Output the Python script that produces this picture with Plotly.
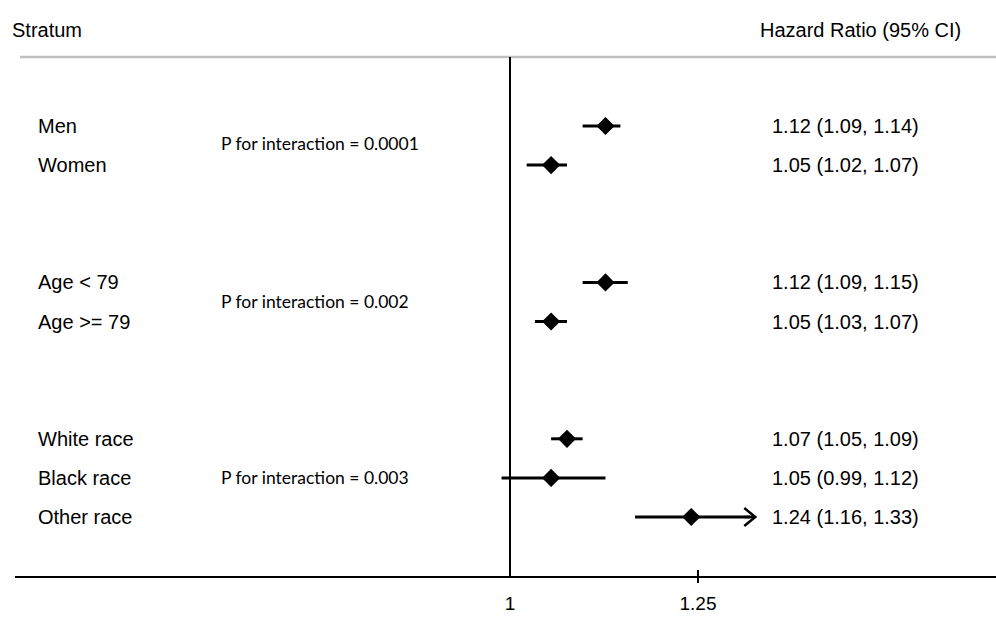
import numpy as np
import plotly.graph_objects as go

# ---- data ----
strata = ["Men", "Women", "Age < 79", "Age >= 79", "White race", "Black race", "Other race"]
rows = [0, 1, 4, 5, 8, 9, 10]
hr = [1.12, 1.05, 1.12, 1.05, 1.07, 1.05, 1.24]
ci_lo = [1.09, 1.02, 1.09, 1.03, 1.05, 0.99, 1.16]
ci_hi = [1.14, 1.07, 1.15, 1.07, 1.09, 1.12, 1.33]
arrow_right = [False, False, False, False, False, False, True]
p_texts = ["P for interaction = 0.0001", "P for interaction = 0.002", "P for interaction = 0.003"]
p_rows = [0.45, 4.5, 9]
tick_vals = [1, 1.25]
tick_text = ["1", "1.25"]

W, H = 996, 619
ML, MB = 15, 43
PW, PH = W - ML, H - MB
px_per_log = 1940.0
x0_px = 510.0
row0_px, row_px = 126.0, 39.1


def xpaper(px):
    return (px - ML) / PW


def ypaper(py):
    return 1 - py / PH


lx = np.log10(hr)
llo = np.log10(ci_lo)
lhi = np.log10(ci_hi)

fig = go.Figure()

# CI lines
for i in range(len(strata)):
    fig.add_trace(go.Scatter(x=[llo[i], lhi[i]], y=[rows[i], rows[i]], mode="lines",
                             line=dict(color="black", width=3), hoverinfo="skip", showlegend=False))

# point estimates
fig.add_trace(go.Scatter(x=lx, y=rows, mode="markers",
                         marker=dict(symbol="diamond", size=14, color="black", line=dict(width=0)),
                         showlegend=False))

FONT = "Liberation Sans, Arial, sans-serif"
ann = []
for i, s in enumerate(strata):
    ann.append(dict(x=xpaper(36), xref="paper", y=rows[i], yref="y", text=s, showarrow=False,
                    xanchor="left", yanchor="middle", font=dict(family=FONT, size=20, color="black")))
    ann.append(dict(x=xpaper(770), xref="paper", y=rows[i], yref="y",
                    text=f"{hr[i]:.2f} ({ci_lo[i]:.2f}, {ci_hi[i]:.2f})", showarrow=False,
                    xanchor="left", yanchor="middle", font=dict(family=FONT, size=20, color="black")))
for t, r in zip(p_texts, p_rows):
    ann.append(dict(x=xpaper(219), xref="paper", y=r, yref="y", text=t, showarrow=False,
                    xanchor="left", yanchor="middle", font=dict(family="Lato, Carlito, sans-serif", size=17.5, color="black")))
ann.append(dict(x=xpaper(10), xref="paper", y=ypaper(30), yref="paper", text="Stratum", showarrow=False,
                xanchor="left", yanchor="middle", font=dict(family=FONT, size=20, color="black")))
ann.append(dict(x=xpaper(963), xref="paper", y=ypaper(30), yref="paper", text="Hazard Ratio (95% CI)",
                showarrow=False, xanchor="right", yanchor="middle", font=dict(family=FONT, size=20, color="black")))

shapes = [
    dict(type="line", xref="paper", yref="paper", x0=xpaper(20), x1=1, y0=ypaper(57), y1=ypaper(57),
         line=dict(color="#bfbfbf", width=2.5)),
    dict(type="line", xref="x", yref="paper", x0=0, x1=0, y0=0, y1=ypaper(57),
         line=dict(color="black", width=2)),
    dict(type="line", xref="x", yref="paper", x0=np.log10(tick_vals[1]), x1=np.log10(tick_vals[1]),
         ysizemode="pixel", yanchor=0, y0=-7, y1=6, line=dict(color="black", width=2)),
]
for i in range(len(strata)):
    if arrow_right[i]:
        shapes.append(dict(type="path", xref="x", yref="y", xsizemode="pixel", ysizemode="pixel",
                           xanchor=lhi[i], yanchor=rows[i],
                           path="M-6,0 L5,0 M-6,-9 L5,0 L-6,9",
                           line=dict(color="black", width=2.5)))

xr = [(ML - x0_px) / px_per_log, (W - x0_px) / px_per_log]
yr = [(PH - row0_px) / row_px, (0 - row0_px) / row_px]

fig.update_layout(
    width=W, height=H, margin=dict(l=ML, r=0, t=0, b=MB),
    plot_bgcolor="white", paper_bgcolor="white",
    annotations=ann, shapes=shapes,
    xaxis=dict(range=xr, showgrid=False, zeroline=False, showline=True, linecolor="black", linewidth=2,
               tickvals=list(np.log10(tick_vals)), ticktext=tick_text, ticks="",
               ticklabelstandoff=9,
               tickfont=dict(family=FONT, size=19, color="black"), fixedrange=True),
    yaxis=dict(range=yr, showgrid=False, zeroline=False, showline=False, showticklabels=False,
               fixedrange=True),
    showlegend=False,
)

fig.write_html("out.html", config={"displayModeBar": False},
               post_script="document.body.style.margin='0';document.body.style.overflow='hidden';")
